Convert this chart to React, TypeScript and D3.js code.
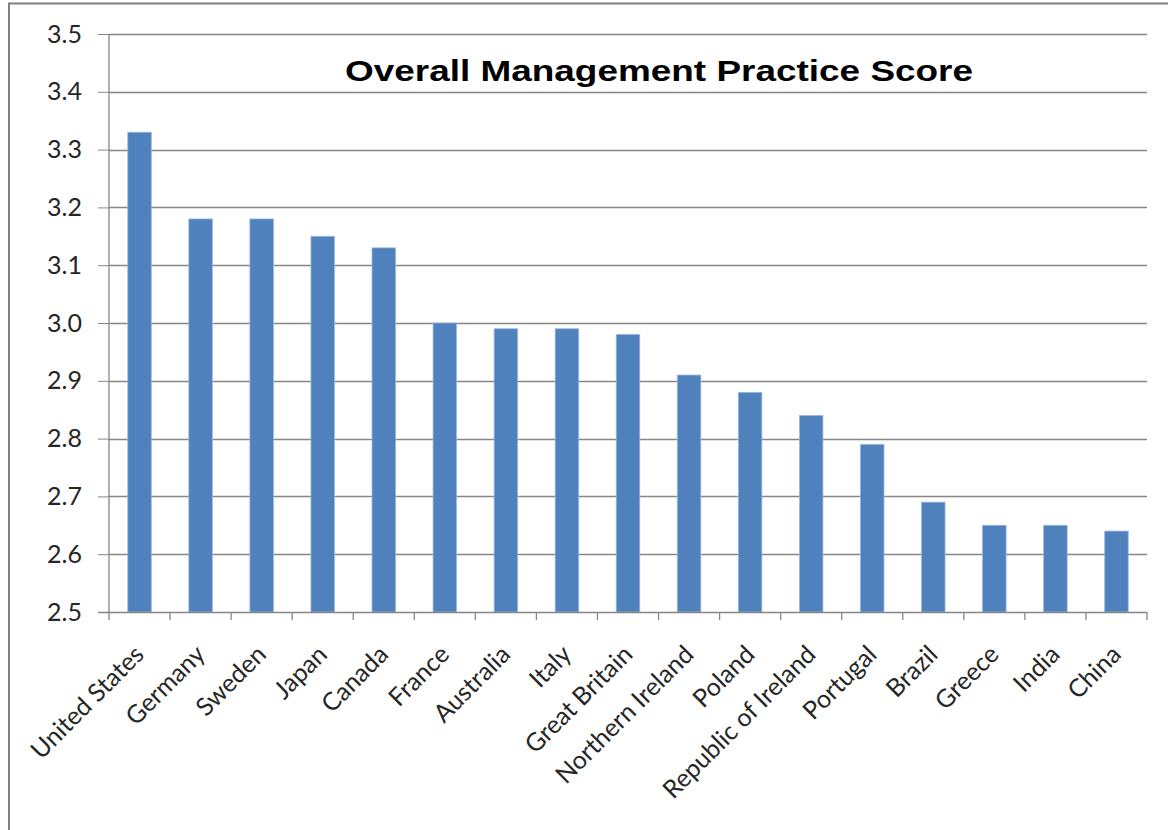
import React, { useEffect, useRef } from 'react';
import * as d3 from 'd3';

const countries = [
  'United States', 'Germany', 'Sweden', 'Japan', 'Canada', 'France', 'Australia', 'Italy',
  'Great Britain', 'Northern Ireland', 'Poland', 'Republic of Ireland', 'Portugal', 'Brazil',
  'Greece', 'India', 'China',
];
const scores = [3.33, 3.18, 3.18, 3.15, 3.13, 3.0, 2.99, 2.99, 2.98, 2.91, 2.88, 2.84, 2.79, 2.69, 2.65, 2.65, 2.64];
const yTicks = [2.5, 2.6, 2.7, 2.8, 2.9, 3.0, 3.1, 3.2, 3.3, 3.4, 3.5];
const title = 'Overall Management Practice Score';

const App = () => {
  const svgRef = useRef<SVGSVGElement>(null);

  useEffect(() => {
    const W = 1168;
    const H = 830;
    const svg = d3.select(svgRef.current).attr('width', W).attr('height', H);
    svg.selectAll('*').remove();

    const left = 109, right = 1147, top = 34, bottom = 612;
    const grid = '#868686';
    const labelFont = 'Lato, "Open Sans", sans-serif';

    // frame edges of the original slide
    svg.append('line').attr('x1', 8).attr('x2', W).attr('y1', 3.5).attr('y2', 3.5)
      .attr('stroke', '#7f7f7f').attr('stroke-width', 2);
    svg.append('line').attr('x1', 9).attr('x2', 9).attr('y1', 3).attr('y2', H)
      .attr('stroke', '#7f7f7f').attr('stroke-width', 2);

    const y = d3.scaleLinear().domain([2.5, 3.5]).range([bottom, top]);
    const xCat = d3.scaleBand().domain(countries).range([left, right]).padding(0);
    const x = d3.scaleBand().domain(countries).range([left, right])
      .paddingInner(0.615).paddingOuter(0.3075);

    // y axis ticks + labels
    const yAxis = svg.append('g')
      .attr('transform', `translate(${left},0)`)
      .call(d3.axisLeft(y).tickValues(yTicks).tickFormat(d3.format('.1f'))
        .tickSize(11).tickPadding(16));
    yAxis.select('.domain').remove();
    yAxis.selectAll('line').attr('stroke', grid);
    yAxis.selectAll('text')
      .style('font-family', labelFont).style('font-size', '25px').attr('fill', '#262626');

    // gridlines
    svg.append('g')
      .selectAll('line')
      .data(yTicks.filter(t => t > 2.5))
      .join('line')
      .attr('x1', left).attr('x2', right)
      .attr('y1', d => Math.round(y(d)) + 0.5).attr('y2', d => Math.round(y(d)) + 0.5)
      .attr('stroke', grid).attr('stroke-width', 1.3);

    // bars
    svg.append('g')
      .selectAll('rect')
      .data(countries)
      .join('rect')
      .attr('x', d => x(d)!)
      .attr('width', x.bandwidth())
      .attr('y', (d, i) => y(scores[i]))
      .attr('height', (d, i) => bottom - y(scores[i]))
      .attr('fill', '#4f81bd')
      .attr('stroke', '#9bb7dc')
      .attr('stroke-width', 0.8);

    // axis lines
    svg.append('line').attr('x1', left).attr('x2', left).attr('y1', top).attr('y2', bottom)
      .attr('stroke', grid).attr('stroke-width', 1.3);
    svg.append('line').attr('x1', left - 11).attr('x2', right).attr('y1', bottom + 0.5).attr('y2', bottom + 0.5)
      .attr('stroke', grid).attr('stroke-width', 1.5);

    // category boundary ticks
    const bounds = countries.map(c => xCat(c)!).concat([right]);
    svg.append('g')
      .selectAll('line')
      .data(bounds)
      .join('line')
      .attr('x1', d => d).attr('x2', d => d)
      .attr('y1', bottom).attr('y2', bottom + 8)
      .attr('stroke', grid).attr('stroke-width', 1.3);

    // rotated category labels
    svg.append('g')
      .selectAll('text')
      .data(countries)
      .join('text')
      .attr('transform', d => `translate(${xCat(d)! + xCat.bandwidth() / 2 + 6},${bottom + 44}) rotate(-45)`)
      .attr('text-anchor', 'end')
      .style('font-family', labelFont)
      .style('font-size', '25px')
      .attr('fill', '#262626')
      .text(d => d);

    // title
    svg.append('text')
      .attr('x', 659)
      .attr('y', 81)
      .attr('text-anchor', 'middle')
      .attr('textLength', 628)
      .attr('lengthAdjust', 'spacingAndGlyphs')
      .style('font-family', '"Liberation Sans", Arial, sans-serif')
      .style('font-weight', 'bold')
      .style('font-size', '30px')
      .attr('fill', '#000')
      .text(title);
  }, []);

  return <svg ref={svgRef} style={{ position: 'absolute', left: 0, top: 0, background: '#fff' }}></svg>;
};

export default App;
